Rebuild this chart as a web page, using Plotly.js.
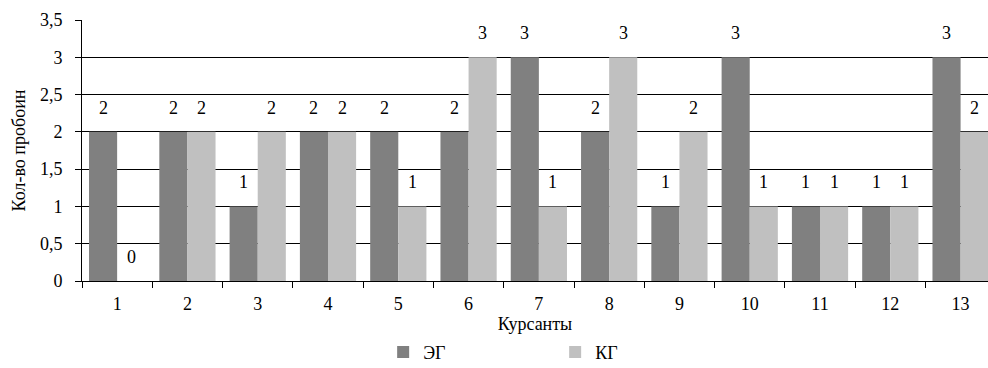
<!DOCTYPE html>
<html><head><meta charset="utf-8">
<script src="https://cdn.plot.ly/plotly-3.0.1.min.js"></script>
<style>body{margin:0;background:#fff}#c{width:988px;height:368px}</style>
</head><body><div id="c"></div>
<script>
const categories = [1,2,3,4,5,6,7,8,9,10,11,12,13];
const seriesNames = ['ЭГ','КГ'];
const egValues = [2,2,1,2,2,2,3,2,1,3,1,1,3];
const kgValues = [0,2,2,2,1,3,1,3,2,1,1,1,2];
const yTicks = [0,0.5,1,1.5,2,2.5,3,3.5];

const font = {family:'Times New Roman, Liberation Serif, serif', size:18, color:'#000'};
const colors = ['#808080','#c0c0c0'];
const series = [egValues, kgValues];
const traces = series.map((v,k)=>({
  type:'bar', x:categories, y:v, name:seriesNames[k],
  marker:{color:colors[k], line:{width:0}}
}));
const offsets = [-0.2, 0.2];
const annotations = [];
series.forEach((v,k)=>v.forEach((val,i)=>annotations.push({
  x:categories[i]+offsets[k], y:val, text:String(val), showarrow:false,
  xref:'x', yref:'y', yanchor:'middle', yshift:24, font:font
})));

Plotly.newPlot('c', traces, {
  width:988, height:368,
  margin:{l:82, r:0, t:20, b:87, autoexpand:false},
  paper_bgcolor:'#fff', plot_bgcolor:'#fff',
  separators:', ',
  font:font,
  barmode:'group', bargap:0.2, bargroupgap:0,
  showlegend:true,
  legend:{orientation:'h', x:0.3324, xanchor:'left', yref:'container', y:0.043, yanchor:'middle',
    font:font, entrywidth:127, itemwidth:30, traceorder:'normal'},
  xaxis:{type:'linear', range:[0.5,13.39], tickvals:categories, ticks:'',
    showgrid:false, zeroline:false, showline:true, linecolor:'#000', linewidth:1,
    minor:{tick0:0.5, dtick:1, ticks:'outside', ticklen:6, tickcolor:'#000', showgrid:false},
    tickfont:font, ticklabelstandoff:6, fixedrange:true, automargin:true,
    title:{text:'Курсанты', font:font, standoff:10}},
  yaxis:{range:[0,3.5], tickvals:yTicks, ticks:'outside', ticklen:6, tickcolor:'#000',
    showgrid:true, gridcolor:'#000', gridwidth:1, zeroline:false, automargin:true,
    showline:true, linecolor:'#000', linewidth:1, tickfont:font, ticklabelstandoff:9,
    title:{text:'Кол-во пробоин', font:font, standoff:9}},
  annotations:annotations
}, {staticPlot:true});
</script></body></html>
